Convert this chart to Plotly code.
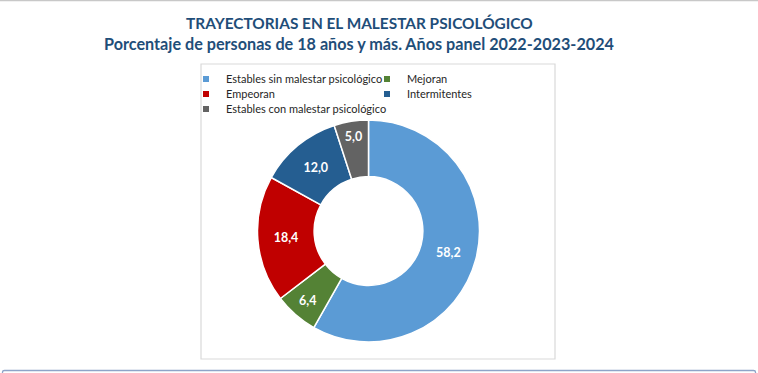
import plotly.graph_objects as go

categories = ["Estables sin malestar psicológico", "Mejoran", "Empeoran",
              "Intermitentes", "Estables con malestar psicológico"]
values = [58.2, 6.4, 18.4, 12.0, 5.0]
colors = ["#5b9bd5", "#548235", "#c00000", "#255e91", "#636363"]

title1 = "TRAYECTORIAS EN EL MALESTAR PSICOLÓGICO"
title2 = "Porcentaje de personas de 18 años y más. Años panel 2022-2023-2024"

W, H = 758, 373
L, R, T, B = 180, 178, 64, 14
PW, PH = W - L - R, H - T - B

def px(x):
    return (x - L) / PW

def py(y):
    return (H - B - y) / PH

fig = go.Figure(go.Pie(
    labels=categories,
    values=values,
    marker=dict(colors=colors, line=dict(color="white", width=1.5)),
    hole=0.49,
    sort=False,
    direction="clockwise",
    rotation=0,
    textposition="inside",
    insidetextorientation="horizontal",
    texttemplate="%{value:.1f}",
    textfont=dict(family="Lato", size=12.5, color="white", weight="bold"),
    domain=dict(x=[px(257), px(480)], y=[py(342), py(120)]),
    hoverinfo="label+value",
    showlegend=False,
))

# legend entries: one small legend per entry so rows can be placed like the original
marker_cols = [206, 387]
row_ys = [79, 94, 109]
legend_layouts = {}
for i, (cat, col) in enumerate(zip(categories, colors)):
    key = "legend" if i == 0 else f"legend{i + 1}"
    fig.add_trace(go.Scatter(
        x=[None], y=[None], mode="markers", name=cat,
        marker=dict(symbol="square", size=6, color=col),
        legend=key, showlegend=True, hoverinfo="skip",
    ))
    mx = marker_cols[i % 2]
    my = row_ys[i // 2]
    legend_layouts[key] = dict(
        x=px(mx - 20), xanchor="left",
        y=py(my), yanchor="middle",
        itemwidth=30,
        font=dict(family="Lato", size=11, color="#262626"),
        bgcolor="rgba(0,0,0,0)",
        borderwidth=0,
    )

fig.update_layout(
    width=W, height=H,
    margin=dict(l=L, r=R, t=T, b=B),
    paper_bgcolor="white",
    plot_bgcolor="white",
    separators=",.",
    showlegend=True,
    xaxis=dict(visible=False),
    yaxis=dict(visible=False),
    annotations=[
        dict(text="<b>" + title1 + "</b>", x=px(359), y=py(22.5), xref="paper", yref="paper",
             xanchor="center", yanchor="middle", showarrow=False,
             font=dict(family="Lato", size=15.4, color="#1f4e79")),
        dict(text="<b>" + title2 + "</b>", x=px(359), y=py(43), xref="paper", yref="paper",
             xanchor="center", yanchor="middle", showarrow=False,
             font=dict(family="Lato", size=16.2, color="#1f4e79")),
    ],
    shapes=[
        dict(type="rect", xref="paper", yref="paper",
             x0=px(201), x1=px(555), y0=py(359), y1=py(64),
             line=dict(color="#d9d9d9", width=1.2), layer="below"),
        dict(type="line", xref="paper", yref="paper",
             x0=px(0), x1=px(758), y0=py(0.6), y1=py(0.6),
             line=dict(color="#c8c8c8", width=1.2)),
        dict(type="path", xref="paper", yref="paper",
             path=f"M {px(2.5)},{py(374)} L {px(2.5)},{py(372)} Q {px(2.5)},{py(370.5)} {px(4.5)},{py(370.5)} "
                  f"L {px(753.5)},{py(370.5)} Q {px(755.5)},{py(370.5)} {px(755.5)},{py(372)} L {px(755.5)},{py(374)}",
             line=dict(color="#8ea4c8", width=1.3)),
    ],
    **legend_layouts,
)

fig.write_html("out.html", config={"displayModeBar": False},
               post_script="document.body.style.margin='0';")
